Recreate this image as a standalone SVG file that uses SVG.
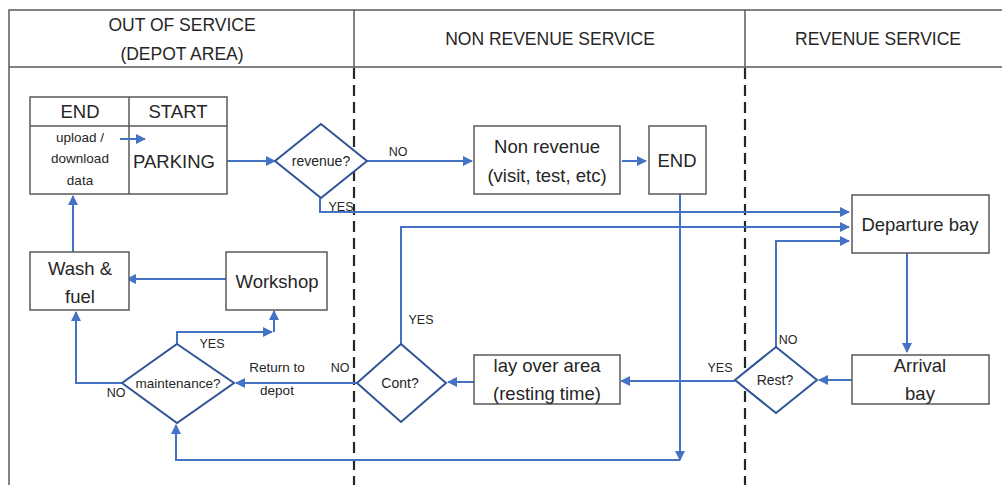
<svg xmlns="http://www.w3.org/2000/svg" width="1002" height="485" viewBox="0 0 1002 485">
<defs>
<marker id="ah" viewBox="0 0 10 10" refX="9" refY="5" markerWidth="5" markerHeight="5" markerUnits="strokeWidth" orient="auto">
<path d="M0,0 L10,5 L0,10 z" fill="#4472C4"/>
</marker>
<style>
.frame{fill:none;stroke:#595959;stroke-width:1.5}
.dash{fill:none;stroke:#262626;stroke-width:2.2;stroke-dasharray:11,6}
.box{fill:#fff;stroke:#595959;stroke-width:1.5}
.dia{fill:#fff;stroke:#2F5597;stroke-width:2}
.arr{fill:none;stroke:#4472C4;stroke-width:2;marker-end:url(#ah)}
text{font-family:"Liberation Sans",Arial,sans-serif;fill:#262626}
.hd{font-size:17.5px;text-anchor:middle}
.t{font-size:18.5px;text-anchor:middle}
.s{font-size:13.5px;text-anchor:middle}
.d{font-size:14px;text-anchor:middle}
.lb{font-size:12.5px;text-anchor:middle}
</style>
</defs>
<rect width="1002" height="485" fill="#fff"/>
<g id="lanes">
<path class="frame" d="M9,485 V10 H1002 M9,67 H1002 M354,10 V67 M745,10 V67"/>
<path class="dash" d="M354,68 V485 M745,68 V485"/>
<text class="hd" x="182" y="31">OUT OF SERVICE</text>
<text class="hd" x="182" y="60">(DEPOT AREA)</text>
<text class="hd" x="550" y="45">NON REVENUE SERVICE</text>
<text class="hd" x="878" y="45">REVENUE SERVICE</text>
</g>
<g id="connectors">
<path class="arr" d="M227,161 H275"/>
<path class="arr" d="M367,161 H472"/>
<path class="arr" d="M622,161 H646"/>
<path class="arr" d="M320,198 V212 H849"/>
<path class="arr" d="M401,344 V227 H849"/>
<path class="arr" d="M776,347 V241 H849"/>
<path class="arr" d="M907,253 V352"/>
<path class="arr" d="M852,380 H819"/>
<path class="arr" d="M735,381 H621"/>
<path class="arr" d="M474,382 H448"/>
<path class="arr" d="M357,383 H236"/>
<path class="arr" d="M680,194 V460"/>
<path class="arr" d="M680,460 H176 V425"/>
<path class="arr" d="M122,383 H76 V312"/>
<path class="arr" d="M177,344 V332 H272"/>
<path class="arr" d="M274,332 V311"/>
<path class="arr" d="M226,279 H127"/>
<path class="arr" d="M73,252 V196"/>
</g>
<g id="end-start">
<rect class="box" x="30" y="97" width="197" height="97"/>
<path class="frame" d="M129,97 V194 M30,126 H227"/>
<text class="t" x="80" y="118">END</text>
<text class="t" x="178" y="118">START</text>
<text class="s" x="80" y="142">upload /</text>
<text class="s" x="80" y="163">download</text>
<text class="s" x="80" y="185">data</text>
<text x="133" y="168" style="font-size:18.5px">PARKING</text>
<path class="arr" d="M120,139 H145"/>
</g>
<g id="revenue">
<path class="dia" d="M321,124 L367,161 L321,198 L275,161 z"/>
<text class="d" x="321" y="166">revenue?</text>
</g>
<g id="nonrevenue">
<rect class="box" x="474" y="126" width="146" height="68"/>
<text class="t" x="547" y="153">Non revenue</text>
<text class="t" x="547" y="182">(visit, test, etc)</text>
</g>
<g id="end2">
<rect class="box" x="649" y="126" width="57" height="68"/>
<text class="t" x="677" y="167">END</text>
</g>
<g id="departure">
<rect class="box" x="852" y="195" width="137" height="58"/>
<text class="t" x="920" y="231">Departure bay</text>
</g>
<g id="arrival">
<rect class="box" x="852" y="355" width="137" height="49"/>
<text class="t" x="920" y="372">Arrival</text>
<text class="t" x="920" y="400">bay</text>
</g>
<g id="rest">
<path class="dia" d="M776,347 L817,380 L776,413 L735,380 z"/>
<text class="d" x="775" y="385">Rest?</text>
</g>
<g id="layover">
<rect class="box" x="474" y="355" width="146" height="49"/>
<text class="t" x="547" y="372">lay over area</text>
<text class="t" x="547" y="400">(resting time)</text>
</g>
<g id="cont">
<path class="dia" d="M401,344 L446,383 L401,422 L357,383 z"/>
<text class="d" x="400" y="388">Cont?</text>
</g>
<g id="maintenance">
<path class="dia" d="M177,344 L234,383 L177,423 L122,383 z"/>
<text class="s" x="178" y="388">maintenance?</text>
</g>
<g id="wash">
<rect class="box" x="30" y="252" width="99" height="58"/>
<text class="t" x="80" y="275">Wash &amp;</text>
<text class="t" x="80" y="303">fuel</text>
</g>
<g id="workshop">
<rect class="box" x="226" y="252" width="101" height="58"/>
<text class="t" x="277" y="288">Workshop</text>
</g>
<g id="labels">
<text class="lb" x="398" y="156">NO</text>
<text class="lb" x="341" y="211">YES</text>
<text class="lb" x="788" y="344">NO</text>
<text class="lb" x="720" y="372">YES</text>
<text class="lb" x="421" y="324">YES</text>
<text class="lb" x="340" y="372">NO</text>
<text class="s" x="277" y="372">Return to</text>
<text class="s" x="277" y="395">depot</text>
<text class="lb" x="116" y="397">NO</text>
<text class="lb" x="212" y="348">YES</text>
</g>
</svg>
